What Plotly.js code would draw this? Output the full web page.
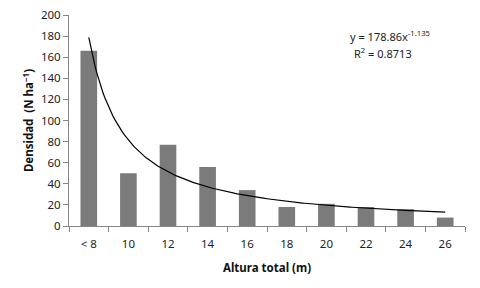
<!DOCTYPE html>
<html><head><meta charset="utf-8">
<script src="https://cdn.plot.ly/plotly-3.0.1.min.js"></script>
<style>body{margin:0;background:#fff}#c{width:480px;height:288px}</style>
</head><body><div id="c"></div>
<script>
const categories = ["< 8","10","12","14","16","18","20","22","24","26"];
const densidad = [166, 50, 77, 56, 34, 18, 21, 18, 16, 8];
const trendA = 178.86;
const trendB = -1.135;
const r2Text = "R<sup>2</sup> = 0.8713";

// trendline defined by the displayed equation, on category index 1..10
const tx = [], ty = [];
for (let i = 0; i <= 180; i++) {
  const x = 1 + i * 9 / 180;
  tx.push(x); ty.push(trendA * Math.pow(x, trendB));
}

const font = {family: "Noto Sans, DejaVu Sans, sans-serif", size: 11.5, color: "#222"};
const data = [
  {type: "bar", x: categories, y: densidad, width: 0.42,
   marker: {color: "#7b7b7b", line: {width: 0}}, hoverinfo: "none"},
  {type: "scatter", mode: "lines", x: tx, y: ty, xaxis: "x2",
   line: {color: "#000", width: 1.2}, hoverinfo: "none"}
];
const layout = {
  width: 480, height: 288, showlegend: false,
  paper_bgcolor: "#fff", plot_bgcolor: "#fff",
  margin: {l: 69, r: 15, t: 15, b: 62},
  font: font,
  bargap: 0.58,
  xaxis: {type: "category", tickson: "boundaries", ticks: "outside", ticklen: 5,
    tickcolor: "#868686", showline: true, linecolor: "#868686", linewidth: 1,
    showgrid: false, tickfont: font, ticklabelstandoff: 7,
    title: {text: "<b>Altura total (m)</b>", font: {family: font.family, size: 11.5, color: "#111"}, standoff: 14}},
  xaxis2: {overlaying: "x", range: [0.5, 10.5], visible: false, anchor: "y"},
  yaxis: {range: [0, 200], dtick: 20, ticks: "outside", ticklen: 5,
    tickcolor: "#868686", showline: true, linecolor: "#868686", linewidth: 1,
    showgrid: false, zeroline: false, tickfont: font,
    title: {text: "<b>Densidad  (N ha<sup>−1</sup>)</b>", font: {family: font.family, size: 11.5, color: "#111"}, standoff: 4}},
  annotations: [
    {xref: "paper", yref: "paper", x: 0.81, y: 0.90, xanchor: "center", yanchor: "middle", showarrow: false,
     text: "y = 178.86x<sup>-1.135</sup>", font: {family: font.family, size: 11, color: "#222"}},
    {xref: "paper", yref: "paper", x: 0.793, y: 0.82, xanchor: "center", yanchor: "middle", showarrow: false,
     text: r2Text, font: {family: font.family, size: 11, color: "#222"}}
  ]
};
Plotly.newPlot("c", data, layout, {displayModeBar: false, staticPlot: true});
</script>
</body></html>
